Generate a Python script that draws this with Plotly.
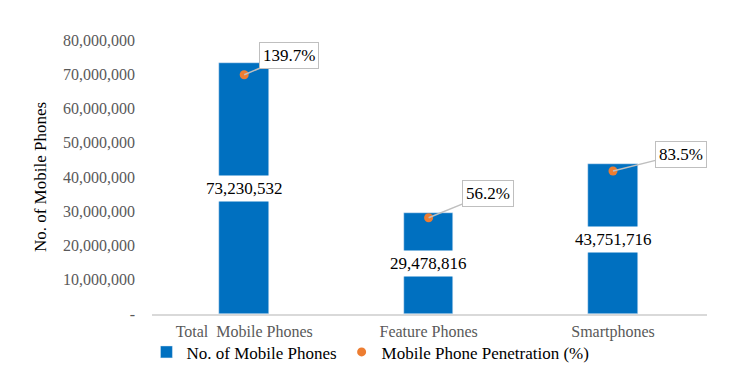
import plotly.graph_objects as go

categories = ["Total\u00a0 Mobile Phones", "Feature Phones", "Smartphones"]
phones = [73230532, 29478816, 43751716]
penetration = [139.7, 56.2, 83.5]
y_ticks = [0, 10000000, 20000000, 30000000, 40000000, 50000000, 60000000, 70000000, 80000000]
y_ticktext = ["-"] + [f"{v:,}" for v in y_ticks[1:]]
pct_offsets = [(45, -19), (59, -24), (68, -17)]

FONT = "Liberation Serif, Times New Roman, serif"

fig = go.Figure()
fig.add_trace(go.Bar(
    x=categories, y=phones, name="No. of Mobile Phones",
    marker=dict(color="#0070C0"), width=0.27,
))
fig.add_trace(go.Scatter(
    x=categories, y=penetration, name="Mobile Phone Penetration (%)",
    mode="markers", marker=dict(color="#ED7D31", size=9), yaxis="y2",
))

annotations = []
for c, v in zip(categories, phones):
    annotations.append(dict(
        x=c, y=v / 2, xref="x", yref="y", text=f"{v:,}", showarrow=False,
        bgcolor="white", borderpad=3,
        font=dict(family=FONT, size=17, color="black"),
    ))
for c, p, (ax, ay) in zip(categories, penetration, pct_offsets):
    annotations.append(dict(
        x=c, y=p, xref="x", yref="y2", text=f"{p}%", showarrow=True,
        arrowhead=0, arrowwidth=1.5, arrowcolor="#BFBFBF", ax=ax, ay=ay,
        bgcolor="white", bordercolor="#BFBFBF", borderwidth=1, borderpad=3,
        font=dict(family=FONT, size=17, color="black"),
    ))

fig.update_layout(
    width=745, height=388,
    margin=dict(l=152, r=38, t=40, b=74),
    plot_bgcolor="white", paper_bgcolor="white",
    font=dict(family=FONT, size=16, color="#595959"),
    bargap=0,
    xaxis=dict(showline=True, linecolor="#D9D9D9", linewidth=1.5,
               ticks="", ticklabelstandoff=2,
               tickfont=dict(family=FONT, size=16, color="#595959")),
    yaxis=dict(range=[0, 80000000], tickvals=y_ticks, ticktext=y_ticktext,
               showgrid=False, zeroline=False, ticks="", ticklabelstandoff=16,
               title=dict(text="No. of Mobile Phones",
                          font=dict(family=FONT, size=17, color="black"), standoff=12),
               tickfont=dict(family=FONT, size=16, color="#595959")),
    yaxis2=dict(range=[0, 160], overlaying="y", side="right", visible=False),
    legend=dict(orientation="h", x=-0.01, y=-0.14, xanchor="left", yanchor="middle",
                bgcolor="rgba(0,0,0,0)",
                font=dict(family=FONT, size=17, color="black"), itemwidth=30,
                tracegroupgap=0),
    annotations=annotations,
    showlegend=True,
)

fig.write_html("out.html")
